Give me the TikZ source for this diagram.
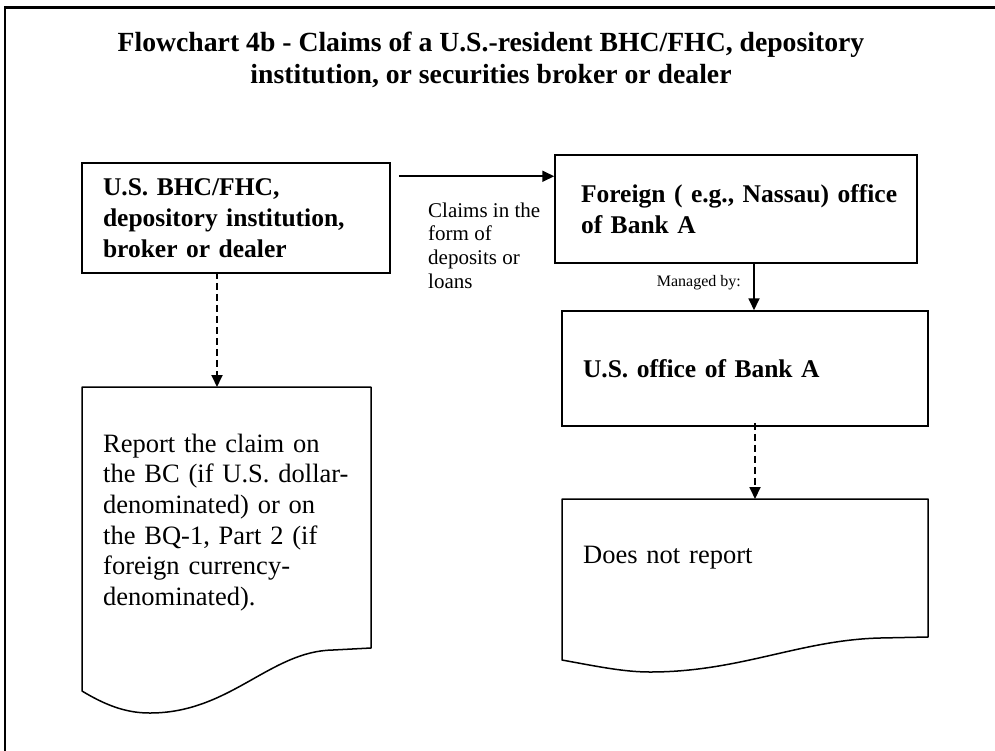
\documentclass[tikz,border=0pt]{standalone}
\usepackage{fontspec}
\setmainfont{Liberation Serif}
\usepackage{tikz}
\usetikzlibrary{arrows.meta,calc,positioning}

\begin{document}
\begin{tikzpicture}[x = 1pt, y = -1pt]
	\tikzstyle{box} = [rectangle, draw = black, line width = 1.5pt, align = left, inner ysep = 0pt, inner xsep = 21pt, font = \fontsize{25.5}{31}\selectfont\bfseries]
	\tikzstyle{doc} = [rectangle, draw = none, align = left, anchor = north west, inner xsep = 21pt, inner ysep = 46.5pt, font = \fontsize{26.5}{30.7}\selectfont]
	\tikzstyle{docline} = [draw = black, line width = 1.5pt, line join = round]
	\tikzstyle{arr} = [draw = black, line width = 1.8pt, -{Triangle[length = 12pt, width = 11pt]}]
	\tikzstyle{dashline} = [dash pattern = on 7pt off 4pt]
\useasboundingbox (0,0) rectangle (995,750);
\path[draw][line width = 2.5pt] (5,760) -- (5,7.5) -- (1000,7.5);
\node[align = center, font = \fontsize{27.7}{32.5}\selectfont\bfseries] (title) at (491,60) {Flowchart 4b - Claims of a U.S.-resident BHC/FHC, depository\\institution, or securities broker or dealer};
\node[box, minimum height = 110pt, text width = 266pt] (bhc) at (236,218) {U.S. BHC/FHC,\\depository institution,\\broker or dealer};
\node[box, inner xsep = 26pt, minimum height = 108pt, text width = 310pt] (foreign) at (736,209) {\mbox{Foreign ( e.g., Nassau) office}\\of Bank A};
\node[box, minimum height = 115pt, text width = 324pt] (usoff) at (745,368.5) {U.S. office of Bank A};
\node[doc, text width = 247pt] (rep) at (82,387) {Report the claim on\\the BC (if U.S. dollar-\\denominated) or on\\the BQ-1, Part 2 (if\\foreign currency-\\denominated).};
\node[doc, text width = 324pt] (does) at (562,499) {Does not report};
	\path[docline, shift = {(rep.north west)}] (0,0) -- (289,0) -- (289,261) -- (251,263) .. controls (188,264) and (148,326) .. (68,326) .. controls (48,326) and (28,321) .. (0,304) -- cycle;
	\path[docline, shift = {(does.north west)}] (0,0) -- (366,0) -- (366,138) -- (318,139) .. controls (238,141) and (178,173) .. (88,173) .. controls (63,173) and (38,168) .. (0,161) -- cycle;
	\path[draw][arr] ([xshift = 8pt, yshift = -14pt]bhc.north east) coordinate (c1) -- (c1 -| foreign.west);
	\path[draw][arr] ([xshift = 18pt]foreign.south) coordinate (c2) -- (c2 |- usoff.north);
	\path[draw][arr, dashline] ([xshift = 10pt, yshift = 4pt]usoff.south) coordinate (c3) -- (c3 |- does.north);
	\path[draw][arr, dashline] ([xshift = -19pt, yshift = 2pt]bhc.south) coordinate (c4) -- (c4 |- rep.north);
\node[align = left, anchor = north west, inner sep = 0pt, font = \fontsize{21}{23.7}\selectfont] (claims) at (428,202.5) {Claims in the\\form of\\deposits or\\loans};
\node[anchor = east, inner sep = 0pt, font = \fontsize{16}{19}\selectfont] (managed) at (741,283) {Managed by:};
\end{tikzpicture}
\end{document}
